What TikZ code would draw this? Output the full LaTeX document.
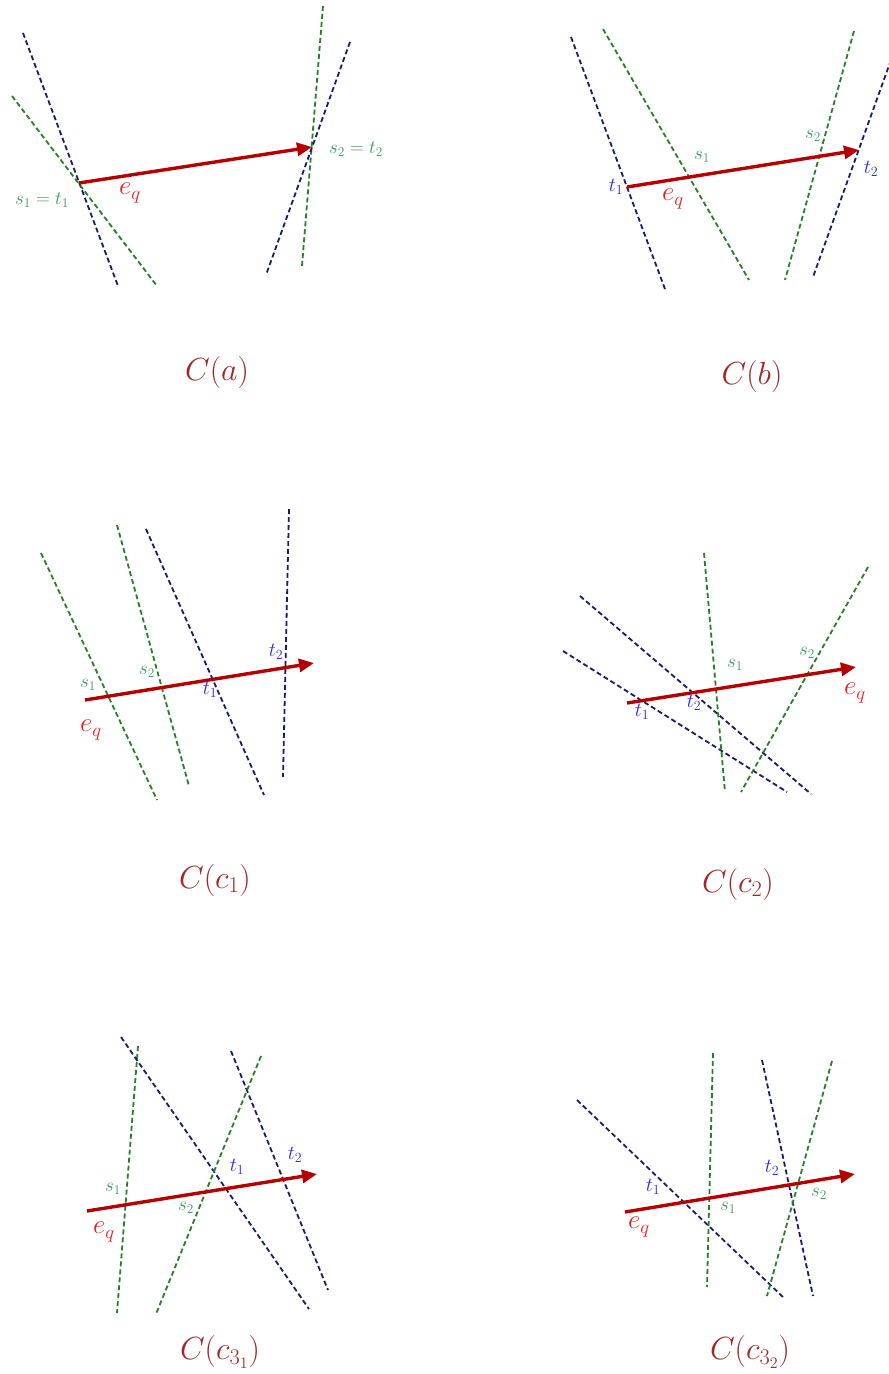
\documentclass[tikz,border=0pt]{standalone}
\usepackage{fix-cm}
\usepackage{amsmath}
\usetikzlibrary{arrows.meta}
\definecolor{navyline}{RGB}{25,25,110}
\definecolor{greenline}{RGB}{40,125,40}
\definecolor{slabel}{RGB}{60,150,100}
\definecolor{tlabel}{RGB}{40,40,240}
\definecolor{eqred}{RGB}{235,30,30}
\definecolor{arrowred}{RGB}{180,0,0}
\definecolor{capred}{RGB}{160,40,40}

\begin{document}
\begin{tikzpicture}[x=1pt,y=-1pt,
  tline/.style={draw=navyline,line width=1.8pt,dash pattern=on 5pt off 3pt},
  sline/.style={draw=greenline,line width=1.8pt,dash pattern=on 5pt off 3pt},
  qedge/.style={draw=arrowred,line width=3.4pt,-{Triangle[length=15pt,width=13pt]}},
  slab/.style={text=slabel,inner sep=1pt,font=\fontsize{19}{21}\selectfont},
  tlab/.style={text=tlabel,inner sep=1pt,font=\fontsize{20}{22}\selectfont},
  eqlab/.style={text=eqred,inner sep=1pt,font=\fontsize{27}{29}\selectfont},
  caplab/.style={text=capred,font=\fontsize{32}{36}\selectfont}]
  \useasboundingbox (0,0) rectangle (889,1374);
  % C(a): both ends of e_q sit on a crossing
  \begin{scope}[name prefix=a-]
    \coordinate (t1top) at (23,33);   \coordinate (t1bot) at (118,286);
    \coordinate (s1top) at (12,96);   \coordinate (s1bot) at (157,286);
    \coordinate (s2top) at (323,6);   \coordinate (s2bot) at (302,266);
    \coordinate (t2top) at (350,42);  \coordinate (t2bot) at (266,275);
    \coordinate (q1) at (79,183);     \coordinate (q2) at (312,147);
    \draw[tline] (t1top) -- (t1bot);
    \draw[sline] (s1top) -- (s1bot);
    \draw[sline] (s2top) -- (s2bot);
    \draw[tline] (t2top) -- (t2bot);
    \draw[qedge] (q1) -- (q2);
    \node[slab] (st1) at (42,200) {$s_1=t_1$};
    \node[slab] (st2) at (356,149) {$s_2=t_2$};
    \node[eqlab] (eq) at (130,193) {$e_q$};
    \node[caplab] (cap) at (217,372) {$C(a)$};
  \end{scope}
  % C(b)
  \begin{scope}[name prefix=b-]
    \coordinate (t1top) at (571,37);  \coordinate (t1bot) at (665,289);
    \coordinate (s1top) at (603,29);  \coordinate (s1bot) at (749,280);
    \coordinate (s2top) at (854,31);  \coordinate (s2bot) at (785,280);
    \coordinate (t2top) at (891,60);  \coordinate (t2bot) at (813,277);
    \coordinate (q1) at (627,187);    \coordinate (q2) at (859,150);
    \draw[tline] (t1top) -- (t1bot);
    \draw[sline] (s1top) -- (s1bot);
    \draw[sline] (s2top) -- (s2bot);
    \draw[tline] (t2top) -- (t2bot);
    \draw[qedge] (q1) -- (q2);
    \node[tlab] (t1) at (616,187) {$t_1$};
    \node[slab] (s1) at (702,157) {$s_1$};
    \node[slab] (s2) at (813,136) {$s_2$};
    \node[tlab] (t2) at (871,169) {$t_2$};
    \node[eqlab] (eq) at (673,199) {$e_q$};
    \node[caplab] (cap) at (752,376) {$C(b)$};
  \end{scope}
  % C(c_1)
  \begin{scope}[name prefix=c-]
    \coordinate (s1top) at (41,553);  \coordinate (s1bot) at (157,800);
    \coordinate (s2top) at (117,525); \coordinate (s2bot) at (189,786);
    \coordinate (t1top) at (146,529); \coordinate (t1bot) at (264,795);
    \coordinate (t2top) at (289,509); \coordinate (t2bot) at (283,777);
    \coordinate (q1) at (85,700);     \coordinate (q2) at (314,663);
    \draw[sline] (s1top) -- (s1bot);
    \draw[sline] (s2top) -- (s2bot);
    \draw[tline] (t1top) -- (t1bot);
    \draw[tline] (t2top) -- (t2bot);
    \draw[qedge] (q1) -- (q2);
    \node[slab] (s1) at (88,685) {$s_1$};
    \node[slab] (s2) at (147,672) {$s_2$};
    \node[tlab] (t1) at (210,690) {$t_1$};
    \node[tlab] (t2) at (276,652) {$t_2$};
    \node[eqlab] (eq) at (91,730) {$e_q$};
    \node[caplab] (cap) at (215,880) {$C(c_1)$};
  \end{scope}
  % C(c_2)
  \begin{scope}[name prefix=d-]
    \coordinate (t2top) at (580,596); \coordinate (t2bot) at (811,794);
    \coordinate (t1top) at (563,651); \coordinate (t1bot) at (787,792);
    \coordinate (s1top) at (704,553); \coordinate (s1bot) at (725,792);
    \coordinate (s2top) at (868,567); \coordinate (s2bot) at (741,792);
    \coordinate (q1) at (627,703);    \coordinate (q2) at (856,667);
    \draw[tline] (t2top) -- (t2bot);
    \draw[tline] (t1top) -- (t1bot);
    \draw[sline] (s1top) -- (s1bot);
    \draw[sline] (s2top) -- (s2bot);
    \draw[qedge] (q1) -- (q2);
    \node[tlab] (t1) at (642,712) {$t_1$};
    \node[tlab] (t2) at (694,703) {$t_2$};
    \node[slab] (s1) at (735,665) {$s_1$};
    \node[slab] (s2) at (807,653) {$s_2$};
    \node[eqlab] (eq) at (855,693) {$e_q$};
    \node[caplab] (cap) at (738,884) {$C(c_2)$};
  \end{scope}
  % C(c_{3_1})
  \begin{scope}[name prefix=e-]
    \coordinate (s1top) at (138,1046); \coordinate (s1bot) at (117,1313);
    \coordinate (t1top) at (121,1037); \coordinate (t1bot) at (309,1309);
    \coordinate (t2top) at (231,1051); \coordinate (t2bot) at (328,1290);
    \coordinate (s2top) at (261,1056); \coordinate (s2bot) at (156,1314);
    \coordinate (q1) at (87,1211);     \coordinate (q2) at (317,1174);
    \draw[sline] (s1top) -- (s1bot);
    \draw[tline] (t1top) -- (t1bot);
    \draw[tline] (t2top) -- (t2bot);
    \draw[sline] (s2top) -- (s2bot);
    \draw[qedge] (q1) -- (q2);
    \node[slab] (s1) at (113,1189) {$s_1$};
    \node[slab] (s2) at (186,1208) {$s_2$};
    \node[tlab] (t1) at (237,1167) {$t_1$};
    \node[tlab] (t2) at (295,1155) {$t_2$};
    \node[eqlab] (eq) at (104,1232) {$e_q$};
    \node[caplab] (cap) at (220,1352) {$C(c_{3_1})$};
  \end{scope}
  % C(c_{3_2})
  \begin{scope}[name prefix=f-]
    \coordinate (t1top) at (577,1100); \coordinate (t1bot) at (783,1297);
    \coordinate (s1top) at (713,1053); \coordinate (s1bot) at (707,1287);
    \coordinate (t2top) at (762,1060); \coordinate (t2bot) at (813,1296);
    \coordinate (s2top) at (832,1061); \coordinate (s2bot) at (767,1296);
    \coordinate (q1) at (625,1212);    \coordinate (q2) at (855,1174);
    \draw[tline] (t1top) -- (t1bot);
    \draw[sline] (s1top) -- (s1bot);
    \draw[tline] (t2top) -- (t2bot);
    \draw[sline] (s2top) -- (s2bot);
    \draw[qedge] (q1) -- (q2);
    \node[tlab] (t1) at (653,1187) {$t_1$};
    \node[slab] (s1) at (728,1208) {$s_1$};
    \node[tlab] (t2) at (772,1168) {$t_2$};
    \node[slab] (s2) at (819,1194) {$s_2$};
    \node[eqlab] (eq) at (639,1227) {$e_q$};
    \node[caplab] (cap) at (750,1352) {$C(c_{3_2})$};
  \end{scope}
\end{tikzpicture}
\end{document}
